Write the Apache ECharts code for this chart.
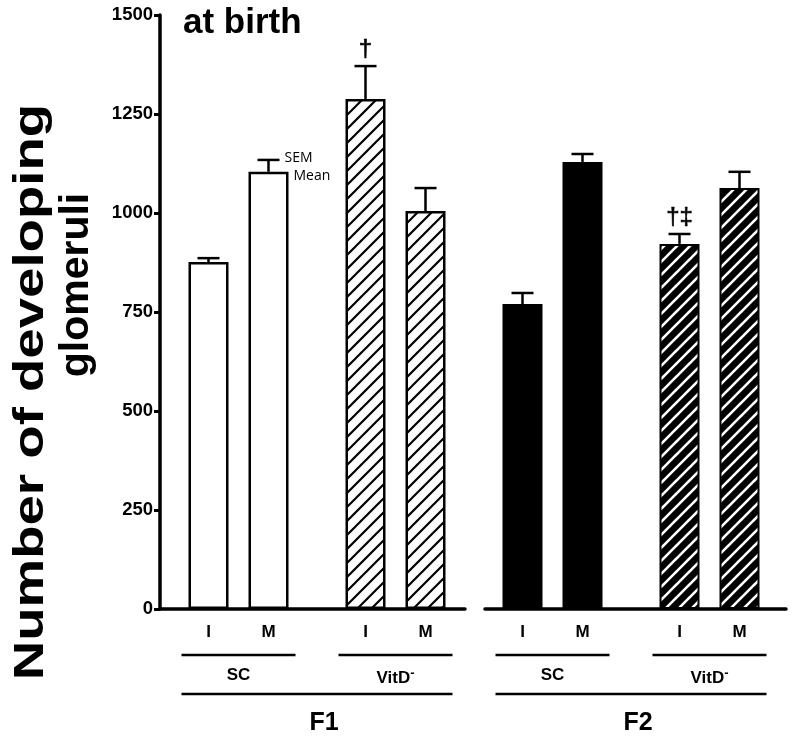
<!DOCTYPE html>
<html><head><meta charset="utf-8">
<script src="https://cdn.jsdelivr.net/npm/echarts@6/dist/echarts.min.js"></script>
<style>html,body{margin:0;padding:0;background:#fff}#c{width:796px;height:739px}</style>
</head><body><div id="c"></div>
<script>
// ---- data ----
const generations = ['F1', 'F2'];
const groups = ['SC', 'VitD⁻'];
const dietLabels = ['I', 'M'];
const iMeans = [876, 1288, 770, 922];
const iSem   = [10, 83, 28, 25];
const mMeans = [1104, 1005, 1129, 1063];
const mSem   = [30, 58, 20, 41];
const iNotes = ['', '†', '', '†‡'];
const mNotes = ['', '', '', ''];
const keyLabels = ['SEM', 'Mean'];   // explanatory labels shown on first M bar
const yMin = 0, yMax = 1500, yStep = 250;
const titleText = 'at birth';
const yNameLines = ['Number of developing', 'glomeruli'];

// ---- styles ----
const FONT = '"Liberation Sans", Arial, sans-serif';
function hatch(size, bg, fg, lw) {
  const c = document.createElement('canvas');
  c.width = c.height = size;
  const ctx = c.getContext('2d');
  ctx.fillStyle = bg; ctx.fillRect(0, 0, size, size);
  ctx.strokeStyle = fg; ctx.lineWidth = lw; ctx.lineCap = 'square';
  ctx.beginPath();
  for (const k of [-1, 0, 1]) { ctx.moveTo(k * size, size); ctx.lineTo(k * size + size, 0); }
  ctx.stroke();
  return c;
}
const styleBy = {
  'F1|SC':    { color: '#fff', borderColor: '#000', borderWidth: 2.5 },
  'F1|VitD⁻': { color: { image: hatch(14, '#fff', '#000', 2.2), repeat: 'repeat' }, borderColor: '#000', borderWidth: 2.5 },
  'F2|SC':    { color: '#000', borderColor: '#000', borderWidth: 2 },
  'F2|VitD⁻': { color: { image: hatch(13, '#000', '#fff', 2.6), repeat: 'repeat' }, borderColor: '#000', borderWidth: 2 }
};
const categories = generations.flatMap(g => groups.map(s => g + '|' + s));

const BAR_W = 40, GAP = 0.5;
const OFF = (BAR_W * (1 + GAP)) / 2;

const errData = [];
iMeans.forEach((v, k) => errData.push([k, v, iSem[k], -1]));
mMeans.forEach((v, k) => errData.push([k, v, mSem[k], 1]));
const errNotes = iNotes.concat(mNotes);

function barData(vals) {
  return vals.map((v, k) => ({ value: v, itemStyle: styleBy[categories[k]] }));
}

const chart = echarts.init(document.getElementById('c'), null, { renderer: 'canvas' });
const GRID_TOP = 15, GRID_H = 594;
chart.setOption({
  animation: false,
  backgroundColor: '#fff',
  title: { text: titleText, left: 183, top: 6, padding: 0,
    textStyle: { fontFamily: FONT, fontSize: 35, fontWeight: 'bold', color: '#000' } },
  grid: [
    { left: 160, top: GRID_TOP, width: 628, height: GRID_H },
    { left: 160, top: GRID_TOP, width: 305, height: GRID_H },
    { left: 485, top: GRID_TOP, width: 301, height: GRID_H }
  ],
  xAxis: [
    { type: 'category', gridIndex: 0, data: categories,
      axisLine: { show: false }, axisTick: { show: false },
      axisLabel: { margin: 58, fontFamily: FONT, fontSize: 17, fontWeight: 'bold', color: '#000',
        formatter: v => { const s = v.split('|')[1]; return s.indexOf('⁻') >= 0 ? s.replace('⁻', '') + '{sup|-}' : s; },
        rich: { sup: { fontFamily: FONT, fontSize: 13, fontWeight: 'bold', color: '#000', verticalAlign: 'top', padding: [0, 0, 9, 0] } } } },
    { type: 'category', gridIndex: 1, data: [''], axisLine: { show: true, lineStyle: { color: '#000', width: 3.5 } },
      axisTick: { show: false }, axisLabel: { show: false } },
    { type: 'category', gridIndex: 2, data: [''], axisLine: { show: true, lineStyle: { color: '#000', width: 3.5 } },
      axisTick: { show: false }, axisLabel: { show: false } }
  ],
  yAxis: [
    { type: 'value', gridIndex: 0, min: yMin, max: yMax, interval: yStep,
      axisLine: { show: true, lineStyle: { color: '#000', width: 3.5 } },
      axisTick: { show: true, length: 6, lineStyle: { color: '#000', width: 3 } },
      splitLine: { show: false },
      axisLabel: { margin: 7, fontFamily: FONT, fontSize: 18.5, fontWeight: 'bold', color: '#000',
        formatter: v => String(v) } },
    { type: 'value', gridIndex: 1, show: false, min: yMin, max: yMax },
    { type: 'value', gridIndex: 2, show: false, min: yMin, max: yMax }
  ],
  series: [
    { name: dietLabels[0], type: 'bar', xAxisIndex: 0, yAxisIndex: 0, barWidth: BAR_W, barGap: (GAP * 100) + '%',
      data: barData(iMeans),
      label: { show: true, position: 'bottom', distance: 15, formatter: p => p.seriesName,
        fontFamily: FONT, fontSize: 17, fontWeight: 'bold', color: '#000' } },
    { name: dietLabels[1], type: 'bar', xAxisIndex: 0, yAxisIndex: 0, barWidth: BAR_W, barGap: (GAP * 100) + '%',
      data: barData(mMeans),
      label: { show: true, position: 'bottom', distance: 15, formatter: p => p.seriesName,
        fontFamily: FONT, fontSize: 17, fontWeight: 'bold', color: '#000' } },
    { type: 'custom', xAxisIndex: 0, yAxisIndex: 0, z: 5, data: errData,
      renderItem: (params, api) => {
        const cat = api.value(0), mean = api.value(1), sem = api.value(2), side = api.value(3);
        const cx = api.coord([cat, 0])[0] + side * OFF;
        const yM = api.coord([cat, mean])[1];
        const yT = api.coord([cat, mean + sem])[1];
        const ls = { stroke: '#000', lineWidth: 2.5 };
        const ch = [
          { type: 'line', shape: { x1: cx, y1: yM, x2: cx, y2: yT }, style: ls },
          { type: 'line', shape: { x1: cx - 11, y1: yT, x2: cx + 11, y2: yT }, style: ls }
        ];
        const note = errNotes[params.dataIndex];
        if (note) ch.push({ type: 'text', x: cx, y: yT - 5,
          style: { text: note, fontFamily: FONT, fontSize: 24, fill: '#000', stroke: '#000', lineWidth: 0.6,
            align: 'center', verticalAlign: 'bottom' } });
        if (side === 1 && cat === 0) {
          ch.push({ type: 'text', x: cx + 16, y: yT - 2,
            style: { text: keyLabels[0], fontFamily: '"Open Sans", sans-serif', fontSize: 14, fill: '#000', align: 'left', verticalAlign: 'middle' } });
          ch.push({ type: 'text', x: cx + BAR_W / 2 + 5, y: yM + 4,
            style: { text: keyLabels[1], fontFamily: '"Open Sans", sans-serif', fontSize: 14, fill: '#000', align: 'left', verticalAlign: 'middle' } });
        }
        return { type: 'group', children: ch };
      } }
  ]
});

// decorative grouping lines, generation labels and the axis title
const g = [];
const LINE_Y = 655, F_LINE_Y = 694, F_TEXT_Y = 723, HALF = 57;
generations.forEach((gen, gi) => {
  const xs = groups.map((s, si) => chart.convertToPixel({ xAxisIndex: 0 }, gi * groups.length + si));
  xs.forEach(x => g.push({ type: 'line', shape: { x1: x - HALF, y1: LINE_Y, x2: x + HALF, y2: LINE_Y }, style: { stroke: '#000', lineWidth: 2.5 } }));
  const x1 = xs[0] - HALF, x2 = xs[xs.length - 1] + HALF;
  g.push({ type: 'line', shape: { x1: x1, y1: F_LINE_Y, x2: x2, y2: F_LINE_Y }, style: { stroke: '#000', lineWidth: 2.5 } });
  g.push({ type: 'text', x: (x1 + x2) / 2 + 7, y: F_TEXT_Y,
    style: { text: gen, fontFamily: FONT, fontSize: 25, fontWeight: 'bold', fill: '#000', align: 'center', verticalAlign: 'middle' } });
});
const yTitleStyle = [
  { x: 31, y: 392, scaleX: 1.3, fontSize: 42 },
  { x: 77, y: 285, scaleX: 1.0, fontSize: 41 }
];
yNameLines.forEach((t, i) => {
  const s = yTitleStyle[i];
  g.push({ type: 'text', x: s.x, y: s.y, rotation: Math.PI / 2, scaleX: s.scaleX,
    style: { text: t, fontFamily: FONT, fontSize: s.fontSize, fontWeight: 'bold', fill: '#000', align: 'center', verticalAlign: 'middle' } });
});
chart.setOption({ graphic: g });
</script>
</body></html>
